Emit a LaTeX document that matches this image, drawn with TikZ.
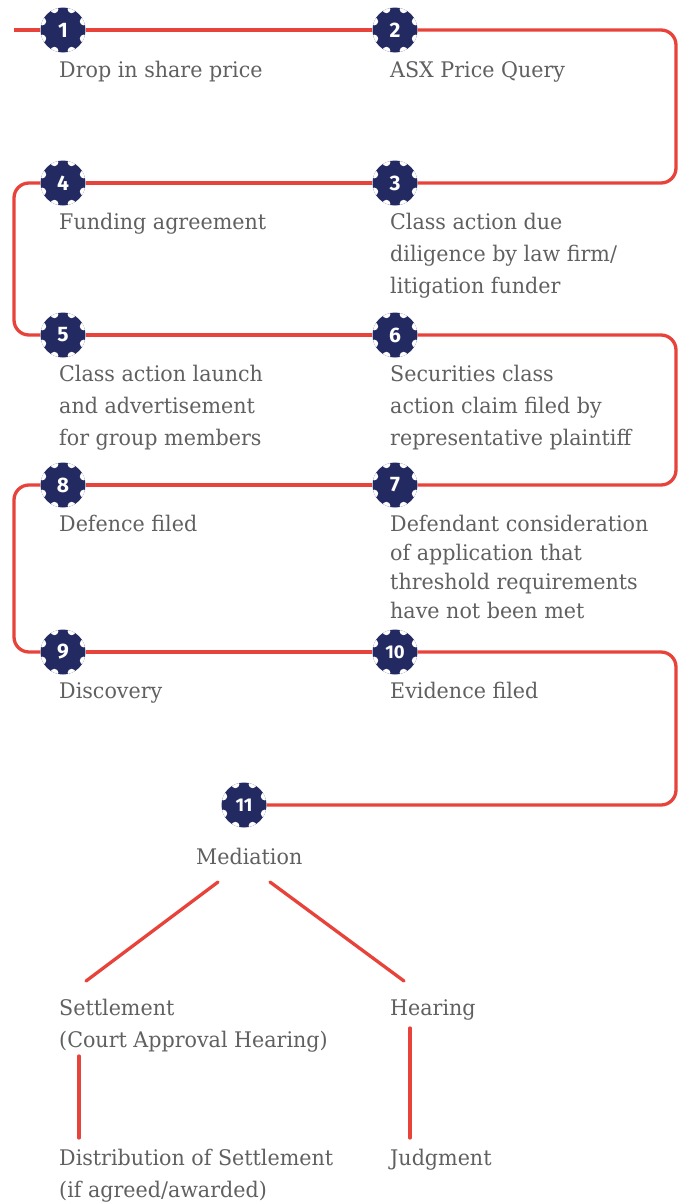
\documentclass[tikz,border=0pt]{standalone}
\usepackage{fontspec}
\setmainfont{DejaVu Serif}[FakeStretch=0.96]
\newfontfamily\numfont{Fira Sans}
\definecolor{navy}{HTML}{232A62}
\definecolor{lred}{HTML}{E8433A}
\definecolor{tgray}{HTML}{606062}
\newcommand\stk[1]{\begin{tabular}[t]{@{}l@{}}#1\end{tabular}}
\tikzset{
  flow/.style={draw=lred, line width=3.3pt, rounded corners=15pt},
  branch/.style={draw=lred, line width=3.3pt, line cap=round},
  lbl/.style={anchor=base west, inner sep=0pt, text=tgray, font=\fontsize{21.5}{32}\selectfont},
  lbltight/.style={lbl, font=\fontsize{21.5}{29.3}\selectfont},
  badge/.style={circle, fill=navy, minimum size=45pt, inner sep=0pt, text=white,
    font=\numfont\bfseries\fontsize{21}{21}\selectfont,
    path picture={\foreach \a in {22.5,67.5,...,337.5}
      \fill[white] (path picture bounding box.center) ++(\a:22.5pt) circle (4pt);}},
  badgetwo/.style={badge, font=\numfont\bfseries\fontsize{18.5}{18.5}\selectfont}
}
\begin{document}
\begin{tikzpicture}[x=1pt, y=-1pt]
\useasboundingbox (0,0) rectangle (681,1202);
\coordinate (R) at (676,0);
\coordinate (L) at (14,0);
\coordinate (start) at (14,30);
% badges
\node[badge] (b1) at (63,30) {1};
\node[badge] (b2) at (395,30) {2};
\node[badge] (b4) at (63,183) {4};
\node[badge] (b3) at (395,183) {3};
\node[badge] (b5) at (63,335) {5};
\node[badge] (b6) at (395,335) {6};
\node[badge] (b8) at (63,485) {8};
\node[badge] (b7) at (395,485) {7};
\node[badge] (b9) at (63,652) {9};
\node[badgetwo] (b10) at (395,652) {10};
\node[badgetwo] (b11) at (244,805) {11};
% flow line
\draw[flow] (start) -- (b1);
\draw[flow] (b1) -- (b2);
\draw[flow] (b2) -- (b2 -| R) -- (b3 -| R) -- (b3);
\draw[flow] (b3) -- (b4);
\draw[flow] (b4) -- (b4 -| L) -- (b5 -| L) -- (b5);
\draw[flow] (b5) -- (b6);
\draw[flow] (b6) -- (b6 -| R) -- (b7 -| R) -- (b7);
\draw[flow] (b7) -- (b8);
\draw[flow] (b8) -- (b8 -| L) -- (b9 -| L) -- (b9);
\draw[flow] (b9) -- (b10);
\draw[flow] (b10) -- (b10 -| R) -- (b11 -| R) -- (b11);
% labels
\node[lbl] (t1) at (59,77) {Drop in share price};
\node[lbl] (t2) at (390,77) {ASX Price Query};
\node[lbl] (t4) at (59,229) {Funding agreement};
\node[lbl] (t3) at (390,229) {\stk{Class action due\\diligence by law firm/\\litigation funder}};
\node[lbl] (t5) at (59,381) {\stk{Class action launch\\and advertisement\\for group members}};
\node[lbl] (t6) at (390,381) {\stk{Securities class\\action claim filed by\\representative plaintiff}};
\node[lbl] (t8) at (59,531) {Defence filed};
\node[lbltight] (t7) at (390,531) {\stk{Defendant consideration\\of application that\\threshold requirements\\have not been met}};
\node[lbl] (t9) at (59,698) {Discovery};
\node[lbl] (t10) at (390,698) {Evidence filed};
\node[lbl] (med) at (196,864) {Mediation};
\node[lbl] (set) at (59,1015) {\stk{Settlement\\(Court Approval Hearing)}};
\node[lbl] (hear) at (390,1015) {Hearing};
\node[lbl] (dist) at (59,1165) {\stk{Distribution of Settlement\\(if agreed/awarded)}};
\node[lbl] (judg) at (390,1165) {Judgment};
% branches
\coordinate (m1) at (218,882);
\coordinate (s1) at (86,981);
\coordinate (m2) at (270,882);
\coordinate (h1) at (404,981);
\coordinate (s2) at (79,1056);
\coordinate (d1) at (79,1138);
\coordinate (h2) at (410,1028);
\coordinate (j1) at (410,1138);
\draw[branch] (m1) -- (s1);
\draw[branch] (m2) -- (h1);
\draw[branch] (s2) -- (d1);
\draw[branch] (h2) -- (j1);
\end{tikzpicture}
\end{document}
